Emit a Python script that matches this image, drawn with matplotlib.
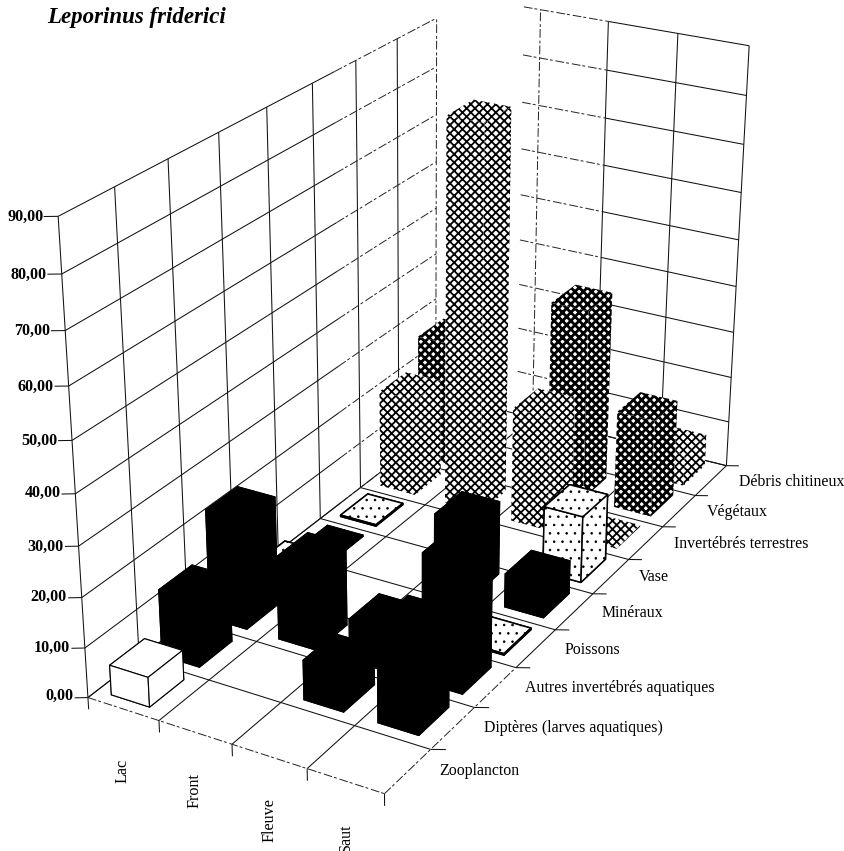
import numpy as np
import matplotlib
matplotlib.use("Agg")
import matplotlib.pyplot as plt
from mpl_toolkits.mplot3d import Axes3D
from mpl_toolkits.mplot3d.art3d import Line3DCollection

plt.rcParams['font.family'] = ['Liberation Serif', 'DejaVu Serif']

sites = ["Lac", "Front", "Fleuve", "Saut"]
foods = ["Zooplancton", "Diptères (larves aquatiques)", "Autres invertébrés aquatiques",
         "Poissons", "Minéraux", "Vase", "Invertébrés terrestres", "Végétaux", "Débris chitineux"]
z_ticks = [0, 10, 20, 30, 40, 50, 60, 70, 80, 90]

# one list per food item, in the order of sites
zooplancton = [6, 0, 0, 0]
dipteres = [13.5, 0, 8, 20]
autres_inv = [22.5, 17, 8.5, 26]
poissons = [4, 0, 0, 0.3]
mineraux = [0.3, 0, 15.5, 7]
vase = [0.3, 0, 0, 14]
inv_terrestres = [21, 81.5, 24.5, 0.3]
vegetaux = [27, 0, 41, 21]
debris = [0, 0, 0, 7]
values = [zooplancton, dipteres, autres_inv, poissons, mineraux, vase, inv_terrestres, vegetaux, debris]

# camera: reference points of the box (x, y, z) -> pixel
box_pts = [(0, 0, 0), (4, 0, 0), (4, 9, 0), (0, 9, 0), (0, 0, 90), (4, 9, 90), (0, 9, 90),
           (0, 0, 50), (2, 0, 0), (4, 5, 0), (0, 5, 0), (1, 9, 90), (3, 9, 90), (0, 5, 90), (4, 9, 50)]
pix_pts = [(87, 697), (386, 793), (725, 467), (473, 402), (59, 217), (750, 45), (475, -1),
           (71, 441), (232, 744), (594, 595), (319, 518), (540, 10), (678, 33), (312, 83), (737, 239)]

def fit_camera(world, pix):
    rows = []
    for (x, y, z), (u, v) in zip(world, pix):
        rows.append([x, y, z, 1, 0, 0, 0, 0, -u*x, -u*y, -u*z, -u])
        rows.append([0, 0, 0, 0, x, y, z, 1, -v*x, -v*y, -v*z, -v])
    p = np.linalg.svd(np.array(rows, dtype=float))[2][-1].reshape(3, 4)
    p = p / p[2, 3]
    # third row is only used for sorting faces: far = larger
    depth = [-1.0, 0.5, -0.05, 0.0]
    return np.array([p[0], p[1], depth, p[2]])

W, H = 844, 851
fig = plt.figure(figsize=(W/100, H/100), dpi=100)
ax = fig.add_axes([0, 0, 1, 1], projection='3d', computed_zorder=False)
ax.set_axis_off()
cam = fit_camera(box_pts, pix_pts)
ax.get_proj = lambda: cam
ax.apply_aspect = lambda position=None: None
ax.viewLim.intervalx = (0, W)
ax.viewLim.intervaly = (H, 0)

solid, broken = [], []

# back walls
for z in z_ticks:
    solid.append([(0, 0, z), (0, 5.5, z)])
    broken.append([(0, 5.5, z), (0, 8, z)])
    broken.append([(0.75, 9, z), (2, 9, z)])
    solid.append([(2, 9, z), (4, 9, z)])
for k in range(0, 8):
    solid.append([(0, k, 0), (0, k, 90)])
broken.append([(0, 8, 0), (0, 8, 90)])
broken.append([(1, 9, 0), (1, 9, 90)])
for k in range(2, 5):
    solid.append([(k, 9, 0), (k, 9, 90)])

# floor
for k in range(1, 4):
    solid.append([(k, 0, 0), (k, 9, 0)])
solid.append([(4, 3, 0), (4, 9, 0)])
broken.append([(4, 0, 0), (4, 3, 0)])
solid.append([(0, 0, 0), (0, 9, 0)])
for k in range(1, 10):
    solid.append([(0, k, 0), (4, k, 0)])
broken.append([(0, 0, 0), (4, 0, 0)])

# tick marks
for z in z_ticks:
    solid.append([(-0.13, -0.08, z), (0, 0, z)])
for k in range(5):
    solid.append([(k, 0, -2.4), (k, 0, 0)])
for k in range(1, 10):
    solid.append([(4, k, 0), (4.15, k + 0.08, 0)])

ax.add_collection3d(Line3DCollection(solid, colors='#111111', linewidths=0.75, zorder=1), autolim=False)
ax.add_collection3d(Line3DCollection(broken, colors='#222222', linewidths=0.7,
                                     linestyles=[(0, (9, 2, 3, 3))], zorder=1), autolim=False)

# appearance of each food item: face, hatch, hatch width, outline width
styles = [('white', None, 1.0, 0.8), ('black', None, 1.0, 0.8), ('black', None, 1.0, 0.8),
          ('white', '..', 0.6, 1.1), ('black', None, 1.0, 0.8), ('white', '..', 0.6, 1.1),
          ('white', 'xxxx', 1.3, 0.0), ('white', 'xxxx', 2.0, 0.0), ('white', 'xxxx', 1.3, 0.0)]

# far rows first, so nearer bars paint over them
order = 10
for j in range(len(foods) - 1, -1, -1):
    face, hatch, hw, lw = styles[j]
    for i in range(len(sites)):
        h = values[j][i]
        if h <= 0:
            continue
        with plt.rc_context({'hatch.linewidth': hw}):
            ax.bar3d(i + 0.2, j + 0.18, 0, 0.54, 0.68, h, color=face, shade=False,
                     edgecolor='black', linewidth=lw, hatch=hatch, zorder=order)
        order += 1

# tick labels
for z, ty in zip(z_ticks, [696, 648, 597, 547, 493, 441, 387, 331, 275, 217]):
    tx = cam[0] @ [0, 0, z, 1] / (cam[3] @ [0, 0, z, 1])
    ax.text2D(tx - 15, ty, f"{z:.2f}".replace(".", ","), ha='right', va='center',
              fontsize=11.6, fontweight='bold', zorder=500)

site_xy = [(122, 771), (194, 791), (269, 820), (346, 838)]
for name, (tx, ty) in zip(sites, site_xy):
    ax.text2D(tx, ty, name, rotation=90, ha='center', va='center', fontsize=11.6, zorder=500)

food_xy = [(439, 771), (484, 728), (525, 688), (565, 650), (602, 613), (639, 577), (674, 544), (707, 512), (739, 482)]
for name, (tx, ty) in zip(foods, food_xy):
    ax.text2D(tx, ty, name, ha='left', va='center', fontsize=11.4, zorder=500)

ax.text2D(47, 17, "Leporinus friderici", ha='left', va='center', fontsize=16.5,
          style='italic', fontweight='bold', zorder=500)

fig.savefig("out.png", dpi=100)
